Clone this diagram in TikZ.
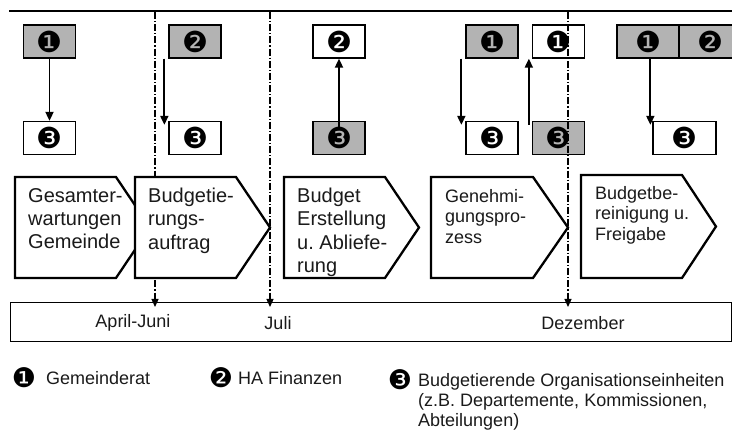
\documentclass[tikz,border=0pt]{standalone}
\usepackage{fontspec}
\setmainfont{Liberation Sans}
\newfontfamily\dingfont{DejaVu Sans}
\usepackage{xcolor}
\definecolor{cFill}{HTML}{B3B3B3}
\definecolor{cText}{HTML}{1A1A1A}
\usetikzlibrary{positioning,arrows.meta,calc}
\frenchspacing
\newcommand\chevfont{\fontsize{20}{23.3}\selectfont}
\newcommand\chevsmall{\fontsize{18}{20.5}\selectfont}
\newcommand\labfont{\fontsize{18}{20}\selectfont}
\tikzset{
  box-actor/.style={draw=black,line width=1.3pt,minimum width=52pt,
    minimum height=33pt,inner sep=0pt,font=\dingfont\fontsize{29}{29}\selectfont},
  box-lead/.style={fill=cFill},
  box-plain/.style={fill=white},
  chev/.style={draw=black,line width=2.3pt,fill=white,line join=miter},
  chev-text/.style={anchor=north west,align=left,inner sep=0pt,text=cText},
  arrow/.style={-{Triangle[length=9pt,width=8pt]},line width=1.8pt},
  milestone/.style={-{Triangle[length=8pt,width=7pt]},line width=1.3pt,
    dash pattern=on 7pt off 2pt on 1.2pt off 2pt},
  key-num/.style={inner sep=0pt,font=\dingfont\fontsize{27}{27}\selectfont},
  key-text/.style={anchor=west,inner sep=0pt,font=\labfont,text=cText},
}

\begin{document}
\begin{tikzpicture}[x=1pt,y=-1pt]
  \useasboundingbox (0,0) rectangle (732,430);
  % Kopflinie
  \coordinate (top-l) at (9,11);
  \coordinate (top-r) at (732,11);
  \draw[line width=2pt] (top-l) -- (top-r);

  % Beteiligte je Phase
  \node[box-actor,box-lead] (g1) at (49.5,41.5) {❶};
  \node[box-actor,box-plain] (o1) at (49.5,138) {❸};
  \node[box-actor,box-lead] (g2) at (195,41.5) {❷};
  \node[box-actor,box-plain] (o2) at (195,138) {❸};
  \node[box-actor,box-plain] (w3) at (339,41.5) {❷};
  \node[box-actor,box-lead] (p3) at (339,138) {❸};
  \node[box-actor,box-lead] (g4) at (492,41.5) {❶};
  \node[box-actor,box-plain] (w4) at (558.5,41.5) {❶};
  \node[box-actor,box-plain] (o4) at (492,138) {❸};
  \node[box-actor,box-lead] (p4) at (558.5,138) {❸};
  \node[box-actor,box-lead,minimum width=62pt] (g5) at (648,41.5) {❶};
  \node[box-actor,box-lead,minimum width=62pt] (h5) at (710,41.5) {❷};
  \node[box-actor,box-plain,minimum width=63pt] (o5) at (684.5,138) {❸};

  % Zeitachse
  \node[draw,line width=1pt,minimum width=721pt,minimum height=39pt,
    anchor=north west,inner sep=0pt] (tl) at (10,302) {};
  \node[font=\labfont,text=cText] (apr) at (133,323) {April-Juni};
  \node[font=\labfont,text=cText] (jul) at (278,323) {Juli};
  \node[font=\labfont,text=cText] (dez) at (583,323) {Dezember};

  % Meilensteine
  \coordinate (m1) at (155,12);
  \coordinate (m2) at (270,12);
  \coordinate (m3) at (568,12);
  \foreach \m in {m1,m2,m3}
    \draw[milestone] (\m) -- ([yshift=-5pt]\m |- tl.north);

  % Fluesse
  \draw[arrow] (g1.south) -- (o1.north);
  \draw[arrow] ([xshift=-4pt]g2.south west) -- ([xshift=-4pt,yshift=-4pt]o2.north west);
  \draw[arrow] ([yshift=-6pt]p3.north) -- (w3.south);
  \draw[arrow] ([xshift=-4pt]g4.south west) -- ([xshift=-4pt,yshift=-4pt]o4.north west);
  \draw[arrow] ([xshift=-3pt,yshift=-4pt]p4.north west) -- ([xshift=-3pt]w4.south west);
  \draw[arrow] ([xshift=-2pt]g5.south -| o5.west) -- ([xshift=-2pt,yshift=-4pt]o5.north west);

  % Phasen
  \foreach \l/\r/\tip/\t in {15/116/150/177,135/236/270/177,284/385/419/177,
      431/533/568/177,581/682/716/175}
    \draw[chev] (\l,\t) -- (\r,\t) -- (\tip,{(\t+278)/2}) -- (\r,278) -- (\l,278) -- cycle;
  \node[chev-text,font=\chevfont] (c1) at (28,188) {Gesamter-\\wartungen\\Gemeinde};
  \node[chev-text,font=\chevfont] (c2) at (148,188) {Budgetie-\\rungs-\\auftrag};
  \node[chev-text,font=\chevfont] (c3) at (297,188) {Budget\\Erstellung\\u. Abliefe-\\rung};
  \node[chev-text,font=\chevsmall] (c4) at (445,189) {Genehmi-\\gungspro-\\zess};
  \node[chev-text,font=\chevsmall] (c5) at (595,186) {Budgetbe-\\reinigung u.\\Freigabe};

  % Legende
  \node[key-num] (k1) at (24,378) {❶};
  \node[key-text] (k1-text) at (46,378) {Gemeinderat};
  \node[key-num] (k2) at (221,378) {❷};
  \node[key-text] (k2-text) at (238,378) {HA Finanzen};
  \node[key-num] (k3) at (400,380) {❸};
  \node[key-text,anchor=north west,align=left] (k3-text) at (418,373)
    {Budgetierende Organisationseinheiten\\(z.B. Departemente, Kommissionen,\\Abteilungen)};
\end{tikzpicture}
\end{document}
